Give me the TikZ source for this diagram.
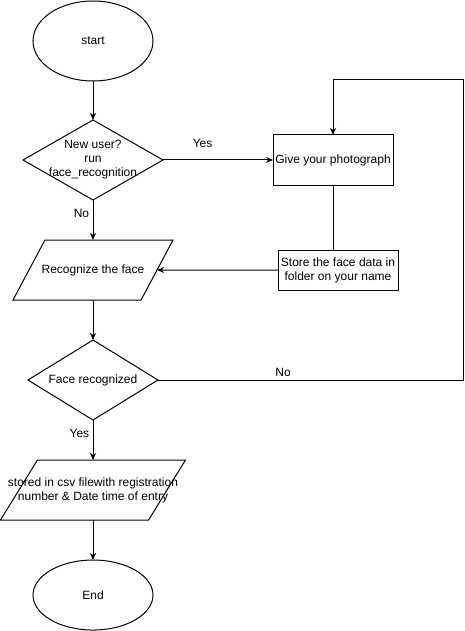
\documentclass[tikz,border=0pt]{standalone}
\usepackage{fontspec}
\setmainfont{Liberation Sans}
\usetikzlibrary{positioning,arrows.meta,shapes.geometric}

\begin{document}
\begin{tikzpicture}[x=1pt,y=1pt,node distance=40pt,line width=1pt,every node/.style={font=\fontsize{12}{14}\selectfont}]
\tikzstyle{terminal}=[draw,ellipse,minimum width=120pt,minimum height=80pt,outer sep=0pt]
\tikzstyle{decision}=[draw,diamond,inner sep=1pt,outer sep=0pt]
\tikzstyle{process}=[draw,rectangle,minimum width=120pt,inner sep=1pt,outer sep=0pt,align=center]
\tikzstyle{io}=[draw,trapezium,trapezium left angle=71.6,trapezium right angle=108.4,trapezium stretches=true,minimum height=60pt,inner sep=1pt,outer sep=0pt]
\tikzstyle{arr}=[-{Stealth[length=7pt,width=6pt,inset=2pt]}]
\useasboundingbox (0,0) rectangle (465,-631);
\node[terminal] (start) at (93,-41) {start};
\node[decision,minimum width=140pt,minimum height=80pt,below=39pt of start,label={[align=center]center:New user?\\run\\face\_recognition}] (q1) {};
\node[process,minimum height=50pt,right=110pt of q1] (photo) {Give your photograph};
\node[io,minimum width=160pt,below=40pt of q1,label={center:Recognize the face}] (recog) {};
\node[process,minimum height=40pt,below=65pt of photo,xshift=5pt] (store) {Store the face data in\\folder on your name};
\node[decision,minimum width=130pt,minimum height=80pt,below=40pt of recog,label={center:Face recognized}] (q2) {};
\node[io,minimum width=185pt,below=40pt of q2,label={[align=center]center:stored in csv filewith registration\\number \& Date time of entry}] (save) {};
\node[terminal,minimum height=70pt,below=40pt of save] (end) {End};
\coordinate[right=305pt of q2.east] (c1);
\coordinate[above=55pt of photo.north] (c2);
\draw[arr] (start) -- (q1);
\draw[arr] (q1) -- node[pos=0.36,above=9pt]{Yes} (photo);
\draw[arr] (q1) -- node[pos=0.33,left=0pt]{No} (recog);
\draw (photo.south) -- (photo.south |- store.north);
\draw[arr] (store) -- (recog);
\draw[arr] (recog) -- (q2);
\draw[arr] (q2.east) -- node[pos=0.41,above=0pt]{No} (c1) |- (c2) -- (photo.north);
\draw[arr] (q2) -- node[pos=0.33,left=0pt]{Yes} (save);
\draw[arr] (save) -- (end);
\end{tikzpicture}
\end{document}
